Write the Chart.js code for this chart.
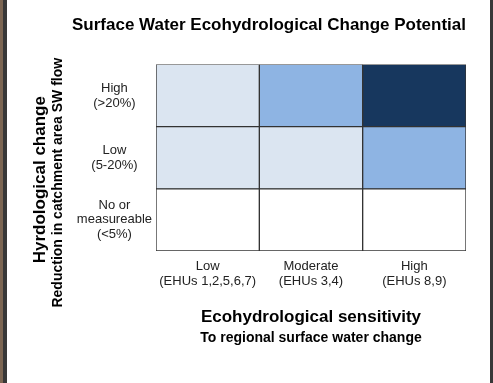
<!DOCTYPE html>
<html>
<head>
<meta charset="utf-8">
<script src="https://cdn.jsdelivr.net/npm/chart.js@4/dist/chart.umd.min.js"></script>
<style>
    html, body { margin: 0; padding: 0; }
    body { width: 493px; height: 383px; background: #7b6552; position: relative; overflow: hidden; }
    .frame { position: absolute; left: 3px; top: 0; width: 483px; height: 383px; background: #fff;
             border-left: 4px solid #383838; border-right: 3px solid #383838; }
    #wrap { position: absolute; left: 0; top: 0; width: 493px; height: 383px; }
</style>
</head>
<body>
<div class="frame"></div>
<div id="wrap"><canvas id="potentialChart" width="493" height="383"></canvas></div>
<script>
// Columns: ecohydrological sensitivity
const sensitivityLabels = [
    ['Low', '(EHUs 1,2,5,6,7)'],
    ['Moderate', '(EHUs 3,4)'],
    ['High', '(EHUs 8,9)'],
];
// Rows, bottom to top: hydrological change
const changeLabels = [
    ['No or', 'measureable', '(<5%)'],
    ['Low', '(5-20%)'],
    ['High', '(>20%)'],
];
// Change potential level of each cell (0 = none ... 3 = high), one array per row
const potentialNoChange = [0, 0, 0];
const potentialLowChange = [1, 1, 2];
const potentialHighChange = [1, 2, 3];
// every cell fills one row unit
const cellSpan = [1, 1, 1];

const levelColors = ['#ffffff', '#dbe5f1', '#8eb4e3', '#17375e'];
const fontFamily = '"Liberation Sans", Arial, Helvetica, sans-serif';

const rows = [potentialNoChange, potentialLowChange, potentialHighChange];

// Extra captions the axis titles cannot do (two fonts on one axis)
const captionsPlugin = {
    id: 'captions',
    afterDraw(chart) {
        const { ctx, chartArea } = chart;
        const midX = (chartArea.left + chartArea.right) / 2;
        const midY = (chartArea.top + chartArea.bottom) / 2;
        ctx.save();
        ctx.fillStyle = '#000';
        ctx.textAlign = 'center';
        ctx.textBaseline = 'middle';

        ctx.font = 'bold 14px ' + fontFamily;
        ctx.fillText('To regional surface water change', midX, 338);

        ctx.save();
        ctx.translate(40, midY + 22);
        ctx.rotate(-Math.PI / 2);
        ctx.font = 'bold 17px ' + fontFamily;
        ctx.fillText('Hyrdological change', 0, 0);
        ctx.restore();

        ctx.save();
        ctx.translate(58, midY + 25);
        ctx.rotate(-Math.PI / 2);
        ctx.font = 'bold 14px ' + fontFamily;
        ctx.fillText('Reduction in catchment area SW flow', 0, 0);
        ctx.restore();

        ctx.restore();
    },
};

const ctx = document.getElementById('potentialChart').getContext('2d');
new Chart(ctx, {
    type: 'bar',
    data: {
        labels: sensitivityLabels,
        datasets: rows.map((levels, i) => ({
            label: changeLabels[i].join(' '),
            data: cellSpan,
            backgroundColor: levels.map((lvl) => levelColors[lvl]),
            borderColor: '#333333',
            borderWidth: 1,
            borderSkipped: false,
            barPercentage: 1,
            categoryPercentage: 1,
        })),
    },
    options: {
        responsive: false,
        animation: false,
        devicePixelRatio: 1,
        layout: {
            padding: { left: 72, right: 27, top: 0, bottom: 0 },
        },
        scales: {
            x: {
                stacked: true,
                grid: { display: false, drawTicks: false },
                border: { display: false },
                ticks: {
                    padding: 8,
                    color: '#222',
                    font: { family: fontFamily, size: 13, lineHeight: 1.15 },
                },
                title: {
                    display: true,
                    text: 'Ecohydrological sensitivity',
                    color: '#000',
                    font: { family: fontFamily, size: 17, weight: 'bold', lineHeight: 1.2 },
                    padding: { top: 0, bottom: 55 },
                },
                afterFit(scale) { scale.height = 132; },
            },
            y: {
                stacked: true,
                min: 0,
                max: 3,
                grid: { display: false, drawTicks: false },
                border: { display: false },
                afterBuildTicks(scale) {
                    scale.ticks = changeLabels.map((_, i) => ({ value: i + 0.5 }));
                },
                ticks: {
                    crossAlign: 'center',
                    padding: 4,
                    color: '#222',
                    font: { family: fontFamily, size: 13, lineHeight: 1.15 },
                    callback: (value, index) => changeLabels[index],
                },
                afterFit(scale) { scale.width = 84; },
            },
        },
        plugins: {
            legend: { display: false },
            tooltip: { enabled: false },
            title: {
                display: true,
                text: 'Surface Water Ecohydrological Change Potential',
                color: '#000',
                font: { family: fontFamily, size: 17, weight: 'bold', lineHeight: 1.2 },
                padding: { top: 15, bottom: 29 },
            },
        },
    },
    plugins: [captionsPlugin],
});
</script>
</body>
</html>
